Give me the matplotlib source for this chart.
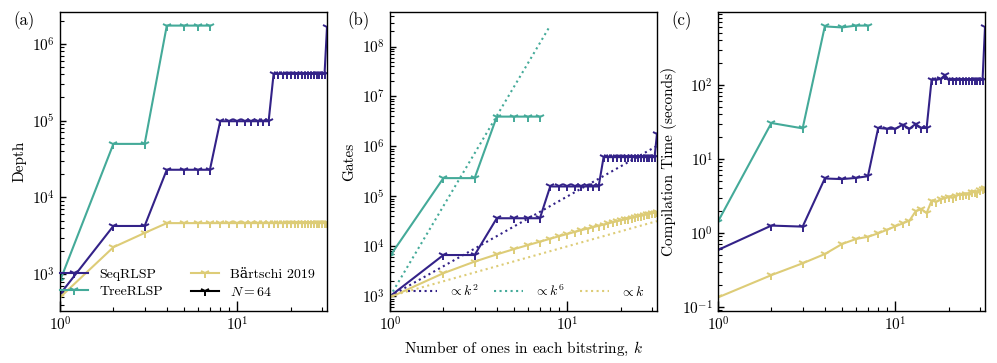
import matplotlib
matplotlib.use("Agg")
import matplotlib.pyplot as plt
from matplotlib.lines import Line2D
import numpy as np

plt.rcParams['font.family'] = ['cmr10', 'DejaVu Serif']
plt.rcParams['mathtext.fontset'] = 'cm'
plt.rcParams['axes.formatter.use_mathtext'] = True
plt.rcParams['font.size'] = 11
plt.rcParams['xtick.direction'] = 'in'
plt.rcParams['ytick.direction'] = 'in'
plt.rcParams['axes.linewidth'] = 1.0

# ---------------- data ----------------
k_all = list(range(1, 33))
k_tree = list(range(1, 8))

depth_seq = [550, 4250, 4250, 22900, 22900, 22900, 22900,
             98000, 98000, 98000, 98000, 98000, 98000, 98000, 98000,
             405000, 405000, 405000, 405000, 405000, 405000, 405000, 405000,
             405000, 405000, 405000, 405000, 405000, 405000, 405000, 405000,
             1640000]
depth_tree = [820, 49700, 49700, 1720000, 1720000, 1720000, 1720000]
depth_bart = [500, 2250, 3450] + [4630] * 29

gates_seq = [1000, 6700, 6700, 36500, 36500, 36500, 36500,
             158000, 158000, 158000, 158000, 158000, 158000, 158000, 158000,
             610000, 610000, 610000, 610000, 610000, 610000, 610000, 610000,
             610000, 610000, 610000, 610000, 610000, 610000, 610000, 610000,
             1800000]
gates_tree = [6400, 232000, 232000, 3950000, 3950000, 3950000, 3950000]
gates_bart = [950, 2900, 4950, 6900, 8800, 10600, 12400, 14200, 16000, 17700,
              19400, 21100, 22700, 24300, 25800, 27300, 28800, 30300, 31700,
              33100, 34500, 35900, 37200, 38500, 39800, 41100, 42400, 43600,
              44800, 46000, 47200, 48300]

time_seq = [0.59, 1.26, 1.22, 5.45, 5.35, 5.55, 5.85,
            26.2, 25.6, 25.6, 29.0, 25.6, 29.7, 26.2, 26.2,
            118, 118, 120, 136, 117, 117, 117, 117, 117, 117, 117, 117,
            117, 117, 117, 117, 600]
time_tree = [1.43, 30.6, 25.9, 617, 598, 633, 633]
time_bart = [0.135, 0.27, 0.39, 0.52, 0.71, 0.83, 0.89, 0.99, 1.11, 1.23,
             1.35, 1.47, 1.96, 2.11, 1.86, 2.73, 2.65, 2.85, 2.95, 3.05,
             3.0, 3.2, 3.3, 3.25, 3.35, 3.3, 3.55, 3.6, 3.5, 3.8, 3.9, 4.1]

# scaling guide exponents (b)
guide_exps = [2, 6, 1]
guide_kmax = [32, 8, 32]
guide_labels = [r'$\propto k^2$', r'$\propto k^6$', r'$\propto k$']

C_SEQ = '#332288'
C_TREE = '#44AA99'
C_BART = '#DDCC77'

W, H = 997, 363
fig = plt.figure(figsize=(W / 100, H / 100), dpi=100)

def ax_at(left_px, right_px, top_px=12, bottom_px=311):
    return fig.add_axes([left_px / W, 1 - bottom_px / H,
                         (right_px - left_px) / W, (bottom_px - top_px) / H])

axa = ax_at(60, 327)
axb = ax_at(390, 657)
axc = ax_at(718, 985)

lw = 1.5
ms = 7
mew = 1.4
mk = '1'

def plot_series(ax, seq, tree, bart):
    ax.plot(k_all, seq, color=C_SEQ, lw=lw, marker=mk, ms=ms, mew=mew, label='SeqRLSP')
    ax.plot(k_tree, tree, color=C_TREE, lw=lw, marker=mk, ms=ms, mew=mew, label='TreeRLSP')
    ax.plot(k_all, bart, color=C_BART, lw=lw, marker=mk, ms=ms, mew=mew, label='Bärtschi 2019')

for ax, (s, t, b) in zip([axa, axb, axc],
                         [(depth_seq, depth_tree, depth_bart),
                          (gates_seq, gates_tree, gates_bart),
                          (time_seq, time_tree, time_bart)]):
    plot_series(ax, s, t, b)
    ax.set_xscale('log')
    ax.set_yscale('log')
    ax.set_xlim(1, 32)
    ax.tick_params(axis='x', which='major', length=7, width=1.0, top=False)
    ax.tick_params(axis='y', which='major', length=4.5, width=1.0, right=False)
    ax.tick_params(which='minor', length=3, width=0.8, top=False, right=False)

# guide lines (b)
guide_colors = [C_SEQ, C_TREE, C_BART]
guide_handles = []
for p, kmax, c, lab in zip(guide_exps, guide_kmax, guide_colors, guide_labels):
    kk = np.array([k for k in k_all if k <= kmax], dtype=float)
    h, = axb.plot(kk, gates_seq[0] * kk ** p, ls=':', color=c, lw=1.5, label=lab)
    guide_handles.append(h)

# legend (a)
h_seq, h_tree, h_bart = axa.get_lines()[:3]
h_n = Line2D([], [], color='black', lw=lw, marker=mk, ms=ms, mew=mew)
axa.legend([h_seq, h_tree, h_bart, h_n],
           ['SeqRLSP', 'TreeRLSP', 'Bärtschi 2019', r'$N=64$'],
           ncol=2, loc='lower right', frameon=False, fontsize=10,
           handlelength=2.0, columnspacing=2.0, labelspacing=0.35)

axb.legend(guide_handles, guide_labels, ncol=3, loc='lower left',
           mode='expand', bbox_to_anchor=(0.02, 0, 0.98, 1), frameon=False,
           fontsize=10, handlelength=2.1)

axa.set_ylabel('Depth')
axb.set_ylabel('Gates')
axc.set_ylabel('Compilation Time (seconds)')
axb.set_xlabel(r'Number of ones in each bitstring, $k$')

fig.text(24 / W, 1 - 21 / H, '(a)', ha='center', va='center', fontsize=12)
fig.text(358 / W, 1 - 21 / H, '(b)', ha='center', va='center', fontsize=12)
fig.text(682 / W, 1 - 21 / H, '(c)', ha='center', va='center', fontsize=12)

fig.savefig('out.png', dpi=100)
